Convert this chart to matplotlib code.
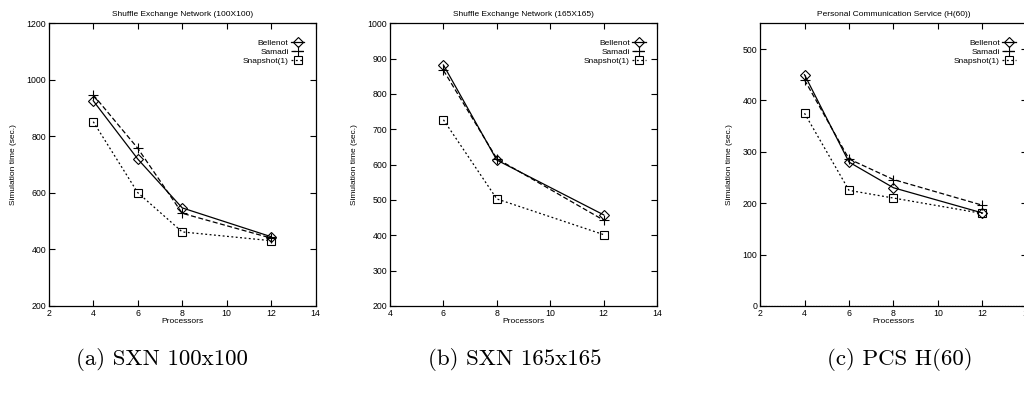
import matplotlib
matplotlib.use('Agg')
import matplotlib.pyplot as plt
from matplotlib.ticker import MultipleLocator

# processors on the x axis for each panel
procs_a = [4, 6, 8, 12]
procs_b = [6, 8, 12]
procs_c = [4, 6, 8, 12]

# (a) Shuffle Exchange Network 100x100
bellenot_a = [926, 720, 547, 445]
samadi_a = [947, 758, 528, 440]
snapshot_a = [852, 601, 462, 431]

# (b) Shuffle Exchange Network 165x165
bellenot_b = [882, 613, 458]
samadi_b = [867, 617, 443]
snapshot_b = [727, 503, 402]

# (c) Personal Communication Service H(60)
bellenot_c = [450, 280, 230, 181]
samadi_c = [440, 286, 246, 196]
snapshot_c = [375, 225, 210, 180]

titles = ['Shuffle Exchange Network (100X100)',
          'Shuffle Exchange Network (165X165)',
          'Personal Communication Service (H(60))']
captions = ['(a) SXN 100x100', '(b) SXN 165x165', '(c) PCS H(60)']
labels = ['Bellenot', 'Samadi', 'Snapshot(1)']

plt.rcParams['font.family'] = ['Liberation Sans Narrow', 'Liberation Sans', 'DejaVu Sans']

fig = plt.figure(figsize=(10.24, 3.99), dpi=100)

panels = [
    (0.0476, procs_a, [bellenot_a, samadi_a, snapshot_a], (2, 14), (200, 1200), 200),
    (0.3809, procs_b, [bellenot_b, samadi_b, snapshot_b], (4, 14), (200, 1000), 100),
    (0.7422, procs_c, [bellenot_c, samadi_c, snapshot_c], (2, 14), (0, 550), 100),
]
styles = [('-', 'D', 5), ((0, (4, 2)), '+', 7.5), ((0, (1.5, 2)), 's', 6)]
caption_x = [0.158, 0.503, 0.879]
fs = 6

for i, (left, x, series, xl, yl, ystep) in enumerate(panels):
    ax = fig.add_axes([left, 0.2331, 0.2607, 0.7085])
    for y, lab, (ls, mk, ms) in zip(series, labels, styles):
        ax.plot(x, y, color='black', linestyle=ls, linewidth=0.9, marker=mk,
                markersize=ms, markerfacecolor='none', markeredgecolor='black',
                markeredgewidth=0.8, label=lab)
    if yl[0] == 0:
        ax.axhline(0, color='black', linestyle=(0, (1, 1.5)), linewidth=0.8)
    ax.set_xlim(*xl)
    ax.set_ylim(*yl)
    ax.xaxis.set_major_locator(MultipleLocator(2))
    ax.yaxis.set_major_locator(MultipleLocator(ystep))
    ax.tick_params(direction='in', top=True, right=True, length=4, width=0.8,
                   labelsize=fs + 0.3, pad=2)
    for s in ax.spines.values():
        s.set_linewidth(0.9)
    ax.set_title(titles[i], fontsize=fs, pad=5)
    ax.set_xlabel('Processors', fontsize=fs, labelpad=0)
    ax.set_ylabel('Simulation time (sec.)', fontsize=fs, labelpad=7)
    ax.legend(loc='upper right', frameon=False, markerfirst=False, fontsize=fs,
              handlelength=1.6, handletextpad=0.3, labelspacing=0.1,
              borderaxespad=0.0, bbox_to_anchor=(0.97, 0.955))
    fig.text(caption_x[i], 0.098, captions[i], family='cmr10', fontsize=16.5,
             ha='center', va='center')

fig.savefig('out.png', dpi=100)
